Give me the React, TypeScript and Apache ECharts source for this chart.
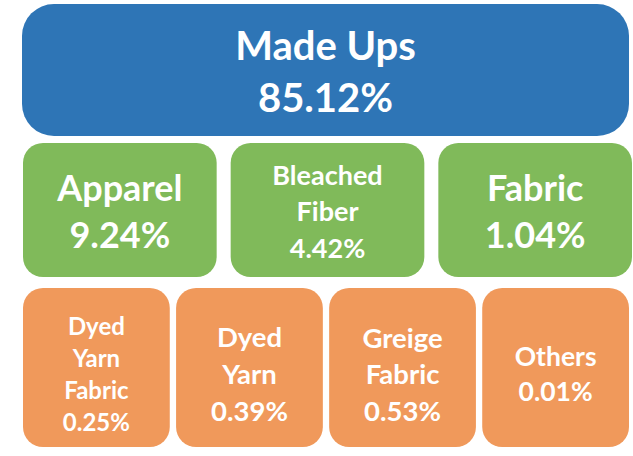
import React, { useEffect, useRef } from "react";
import * as echarts from "echarts";

// Data
const categories = ["Made Ups", "Apparel", "Bleached Fiber", "Fabric", "Dyed Yarn Fabric", "Dyed Yarn", "Greige Fabric", "Others"];
const shares = [85.12, 9.24, 4.42, 1.04, 0.25, 0.39, 0.53, 0.01];
const tierOf = [0, 1, 1, 1, 2, 2, 2, 2];
const nameLines = [["Made Ups"], ["Apparel"], ["Bleached", "Fiber"], ["Fabric"], ["Dyed", "Yarn", "Fabric"], ["Dyed", "Yarn"], ["Greige", "Fabric"], ["Others"]];

// Styling / layout
const tierColors = ["#2E75B6", "#80BA5A", "#F0995B"];
const tierTop = [4, 143, 288];
const tierBottom = [136, 277, 447];
const tierLeft = [22, 23, 23];
const tierRight = [629, 632, 629];
const tierGap = [0, 14, 6.3];
const tierRadius = [32, 20, 20];
const tierTextOffset = [0.5, 0.5, 6];
const fontSizes = [40, 36, 27, 36, 24, 27.5, 27.5, 26.5];
const lineHeights = [52, 47, 36.5, 47, 32, 37, 36.5, 35];

export default function App() {
  const ref = useRef<HTMLDivElement>(null);
  useEffect(() => {
    if (!ref.current) return;
    const chart = echarts.init(ref.current, undefined, { renderer: "svg" });
    const elements: any[] = [];
    for (let t = 0; t < 3; t++) {
      const idx = categories.map((_, i) => i).filter((i) => tierOf[i] === t);
      const n = idx.length;
      const w = (tierRight[t] - tierLeft[t] - tierGap[t] * (n - 1)) / n;
      const h = tierBottom[t] - tierTop[t];
      idx.forEach((i, k) => {
        const x = tierLeft[t] + k * (w + tierGap[t]);
        elements.push({
          type: "rect",
          shape: { x, y: tierTop[t], width: w, height: h, r: tierRadius[t] },
          style: { fill: tierColors[t] },
        });
        const lines = [...nameLines[i], shares[i].toFixed(2) + "%"];
        const lh = lineHeights[i];
        const cy = tierTop[t] + h / 2 + tierTextOffset[t];
        lines.forEach((ln, j) => {
          elements.push({
            type: "text",
            x: x + w / 2,
            y: cy + (j - (lines.length - 1) / 2) * lh,
            style: {
              text: ln,
              fill: "#FFFFFF",
              font: `bold ${fontSizes[i]}px Lato, "Open Sans", sans-serif`,
              fontWeight: "bold",
              fontFamily: "Lato",
              fontSize: fontSizes[i],
              textAlign: "center",
              textVerticalAlign: "middle",
              verticalAlign: "middle",
            },
          });
        });
      });
    }
    chart.setOption({
      animation: false,
      backgroundColor: "#FFFFFF",
      graphic: { elements },
    });
    return () => chart.dispose();
  }, []);
  return <div ref={ref} style={{ position: "fixed", left: 0, top: 0, width: 633, height: 456 }} />;
}
